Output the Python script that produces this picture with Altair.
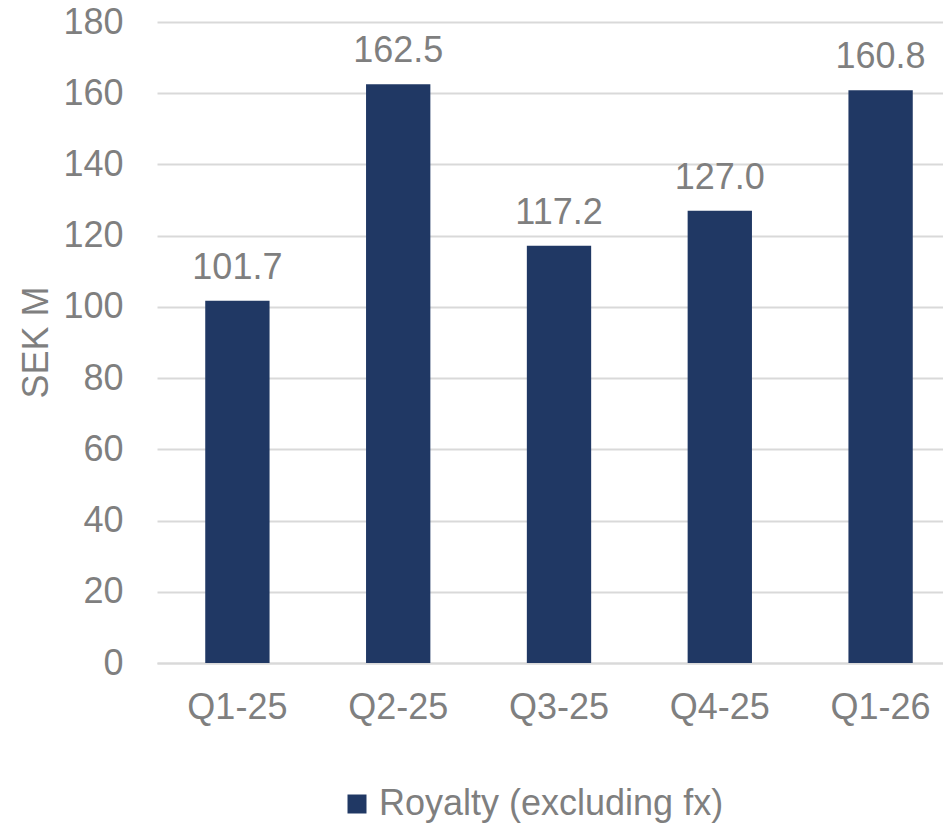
import altair as alt
import pandas as pd

quarters = ["Q1-25", "Q2-25", "Q3-25", "Q4-25", "Q1-26"]
royalty = [101.7, 162.5, 117.2, 127.0, 160.8]
series_name = "Royalty (excluding fx)"

df = pd.DataFrame({"quarter": quarters, "value": royalty, "series": [series_name] * len(quarters)})
df["label"] = df["value"].map(lambda v: f"{v:.1f}")

FONT = "Liberation Sans"
GRAY = "#7F7F7F"
BAR = "#203864"

x = alt.X("quarter:N", sort=quarters, title=None,
          scale=alt.Scale(paddingInner=0.6, paddingOuter=0.3),
          axis=alt.Axis(labelAngle=0, labelFontSize=36, labelColor=GRAY, labelFont=FONT,
                        labelPadding=27, ticks=False, domain=True, domainColor="#D9D9D9",
                        domainWidth=2, grid=False))

bars = alt.Chart(df).mark_bar(color=BAR).encode(
    x=x,
    y=alt.Y("value:Q", title="SEK M", scale=alt.Scale(domain=[0, 180], nice=False),
            axis=alt.Axis(values=list(range(0, 181, 20)), labelFontSize=36, labelColor=GRAY,
                          labelFont=FONT, labelPadding=34, ticks=False, domain=False,
                          gridColor="#D9D9D9", gridWidth=2,
                          titleFont=FONT, titleFontSize=36, titleColor=GRAY, titleFontWeight="normal",
                          titleX=-110, titleY=320, titleBaseline="alphabetic", titleAngle=-90)),
    fill=alt.Fill("series:N", scale=alt.Scale(range=[BAR]),
                  legend=alt.Legend(title=None, orient="none", legendX=182, legendY=764,
                                    direction="horizontal", symbolType="square", symbolSize=361,
                                    symbolStrokeWidth=0, labelFontSize=36, labelColor=GRAY,
                                    labelFont=FONT, labelOffset=4, labelLimit=0)),
)

labels = alt.Chart(df).mark_text(baseline="alphabetic", dy=-22, fontSize=36, color=GRAY, font=FONT).encode(
    x=alt.X("quarter:N", sort=quarters),
    y=alt.Y("value:Q"),
    text="label:N",
)

chart = (bars + labels).properties(
    width=804, height=641,
    background="white",
    autosize=alt.AutoSizeParams(type="none"),
    padding={"left": 149, "top": 14, "right": -18, "bottom": 160},
).configure_view(stroke=None, strokeWidth=0).configure_axisY(domain=False)

chart.save("out.html", embed_options={"renderer": "svg", "actions": False})
